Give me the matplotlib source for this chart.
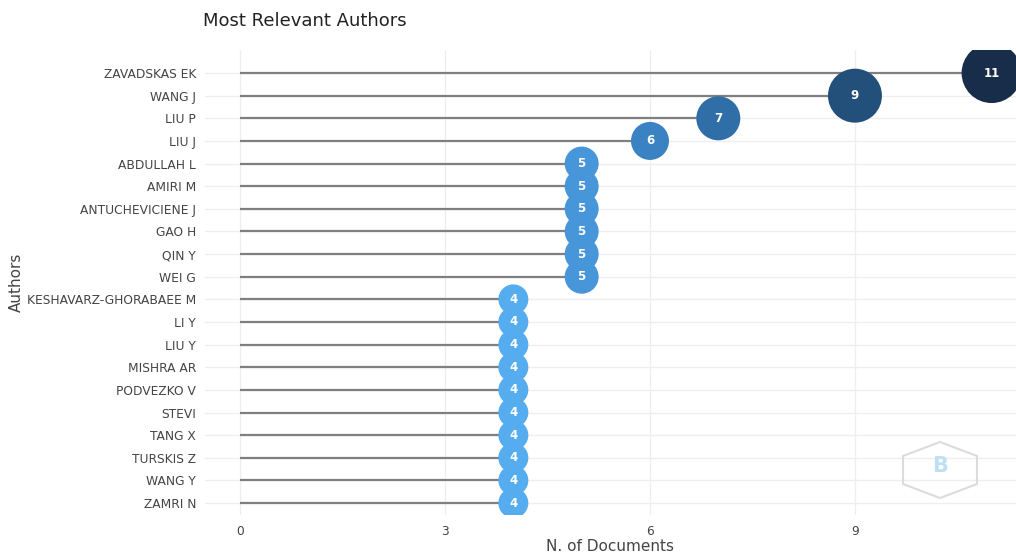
import matplotlib.pyplot as plt
from matplotlib.patches import Polygon

plt.rcParams['font.family'] = ['DejaVu Sans']

authors = ["ZAVADSKAS EK", "WANG J", "LIU P", "LIU J", "ABDULLAH L", "AMIRI M",
           "ANTUCHEVICIENE J", "GAO H", "QIN Y", "WEI G", "KESHAVARZ-GHORABAEE M",
           "LI Y", "LIU Y", "MISHRA AR", "PODVEZKO V", "STEVI", "TANG X",
           "TURSKIS Z", "WANG Y", "ZAMRI N"]
docs = [11, 9, 7, 6, 5, 5, 5, 5, 5, 5, 4, 4, 4, 4, 4, 4, 4, 4, 4, 4]

# colour / bubble diameter (px) per document count
colors = {11: "#172d4a", 9: "#23507a", 7: "#2f6ea6", 6: "#3a82c2", 5: "#4896da", 4: "#55acef"}
diam_px = {11: 60, 9: 54, 7: 44, 6: 38, 5: 34, 4: 30}

fig = plt.figure(figsize=(10.16, 5.55), dpi=100)
ax = fig.add_axes([0.2013, 0.072, 0.7987, 0.838])

y = list(range(len(authors)))
ax.hlines(y, 0, docs, color="#7f7f7f", lw=1.6, zorder=2)
sizes = [(diam_px[d] * 0.72) ** 2 for d in docs]
ax.scatter(docs, y, s=sizes, c=[colors[d] for d in docs], zorder=3, linewidths=0, clip_on=True)
for d, yy in zip(docs, y):
    ax.text(d, yy, str(d), color="white", ha="center", va="center", fontsize=8.5,
            fontweight="bold", zorder=4)

ax.set_xlim(-0.52, 11.357)
ax.set_ylim(19.53, -1.02)
ax.set_xticks([0, 3, 6, 9])
ax.set_yticks(y)
ax.set_yticklabels(authors)
ax.tick_params(axis="both", colors="#444444", labelsize=8.8, length=0)
ax.tick_params(axis="y", pad=6)
ax.tick_params(axis="x", pad=7)
ax.grid(True, color="#eeeeee", lw=0.9, zorder=0)
for s in ax.spines.values():
    s.set_visible(False)

ax.set_xlabel("N. of Documents", fontsize=11, color="#444444", labelpad=1)
ax.set_ylabel("Authors", fontsize=11, color="#444444", labelpad=2)
fig.text(0.2, 0.962, "Most Relevant Authors", fontsize=13, color="#222222", ha="left", va="center")

# faint logo (pointy-top hexagon, ~75 x 57 px, centred near (940, 470))
cx, cy, hw, hh = 940 / 1016, 1 - 470 / 555, 37 / 1016, 28 / 555
hexagon = [(cx, cy + hh), (cx + hw, cy + hh / 2), (cx + hw, cy - hh / 2),
           (cx, cy - hh), (cx - hw, cy - hh / 2), (cx - hw, cy + hh / 2)]
fig.patches.append(Polygon(hexagon, closed=True, transform=fig.transFigure,
                           fill=False, ec="#dcdcdc", lw=1.5))
fig.text(cx, cy + 0.008, "B", fontsize=15, color="#bde0f5", ha="center", va="center", fontweight="bold")

fig.savefig("out.png", dpi=100)
